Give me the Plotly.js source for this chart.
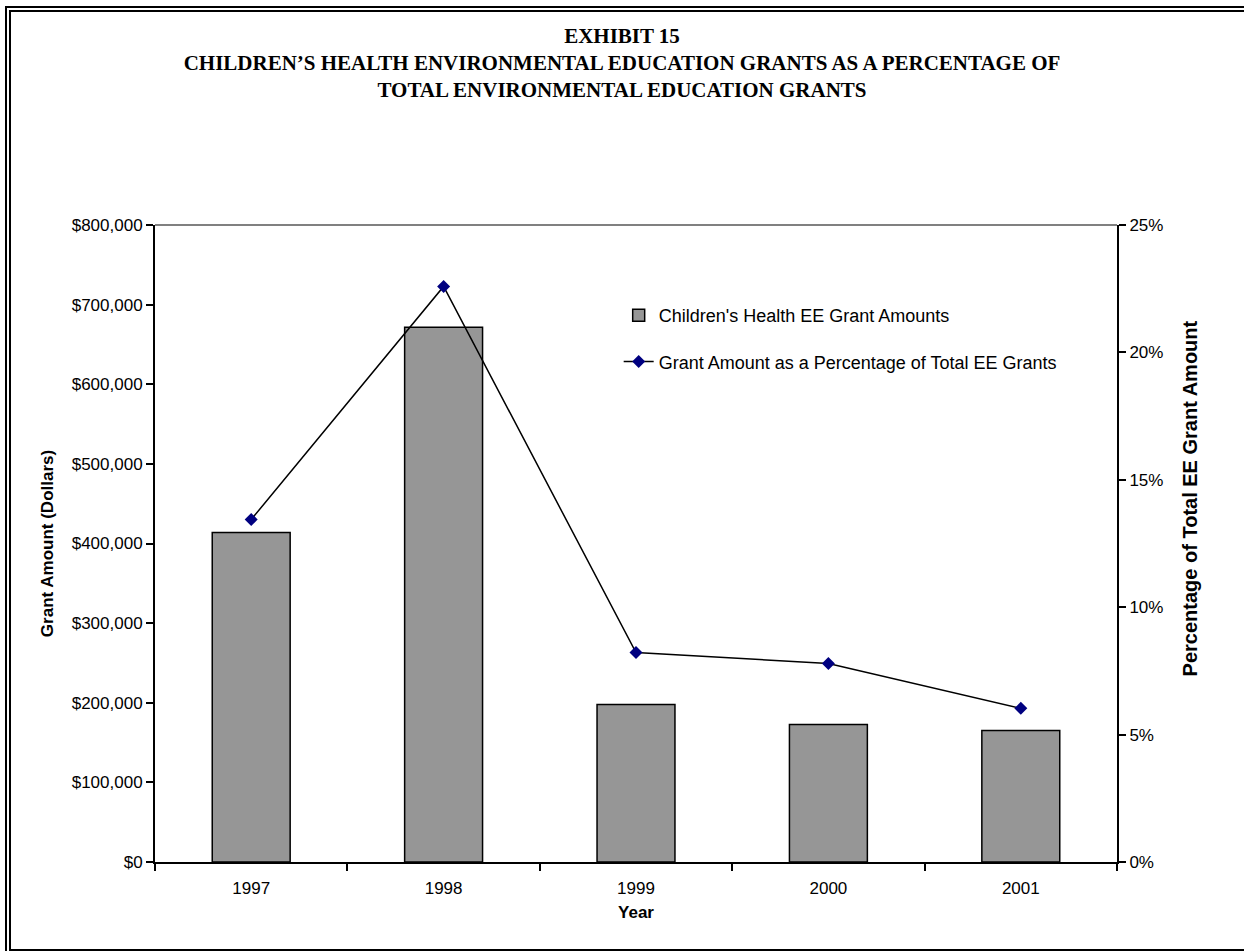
<!DOCTYPE html>
<html>
<head>
<meta charset="utf-8">
<script src="https://cdn.plot.ly/plotly-3.0.1.min.js"></script>
<style>
  html, body { margin: 0; padding: 0; background: #fff; }
  #wrap { position: relative; width: 1244px; height: 951px; overflow: hidden; }
  #chart { position: absolute; left: 0; top: 0; width: 1244px; height: 951px; }
  .frame { position: absolute; pointer-events: none; box-sizing: border-box; }
  #outer { left: 5px; top: 6px; width: 1239px; height: 945px; border-left: 2px solid #000; border-top: 2px solid #000; }
  #inner { left: 9px; top: 10px; width: 1235px; height: 941px; border-left: 2px solid #000; border-top: 2px solid #000; border-bottom: 2px solid #000; }
</style>
</head>
<body>
<div id="wrap">
  <div id="chart"></div>
  <div id="outer" class="frame"></div>
  <div id="inner" class="frame"></div>
</div>
<script>
// ---- data ----
const years = ['1997', '1998', '1999', '2000', '2001'];
const grantAmounts = [413700, 671700, 197900, 172800, 165300];
const grantPercentages = [0.1344, 0.2259, 0.0822, 0.0779, 0.0603];
const barName = "Children's Health EE Grant Amounts";
const lineName = 'Grant Amount as a Percentage of Total EE Grants';
const titleLines = [
  'EXHIBIT 15',
  'CHILDREN\u2019S HEALTH ENVIRONMENTAL EDUCATION GRANTS AS A PERCENTAGE OF',
  'TOTAL ENVIRONMENTAL EDUCATION GRANTS'
];
const leftAxisTitle = 'Grant Amount (Dollars)';
const rightAxisTitle = 'Percentage of Total EE Grant Amount';
const xAxisTitle = 'Year';

const sans = 'Liberation Sans, Arial, sans-serif';
const serif = 'Liberation Serif, Times New Roman, serif';

const traces = [
  {
    type: 'bar',
    x: years,
    y: grantAmounts,
    name: barName,
    legendgroup: 'a',
    marker: { color: '#969696', line: { color: '#000', width: 1.5 } },
    yaxis: 'y',
    xaxis: 'x'
  },
  {
    type: 'scatter',
    mode: 'lines+markers',
    x: years,
    y: grantPercentages,
    name: lineName,
    legendgroup: 'b',
    line: { color: '#000', width: 1.5 },
    marker: { symbol: 'diamond', size: 10, color: '#000080' },
    yaxis: 'y2',
    xaxis: 'x'
  }
];

const layout = {
  width: 1244,
  height: 951,
  paper_bgcolor: '#fff',
  plot_bgcolor: '#fff',
  margin: { l: 155, r: 127, t: 224.5, b: 89, pad: 0 },
  font: { family: sans, size: 17, color: '#000' },
  title: {
    text: '<b>' + titleLines.join('<br>') + '</b>',
    font: { family: serif, size: 21, color: '#000' },
    x: 0.5, xref: 'container', xanchor: 'center',
    y: 0.955, yref: 'container', yanchor: 'top'
  },
  bargap: 0.595,
  showlegend: true,
  legend: {
    x: 0.482, xanchor: 'left',
    y: 0.887, yanchor: 'top',
    bgcolor: 'rgba(0,0,0,0)',
    font: { family: sans, size: 18, color: '#000' },
    traceorder: 'grouped',
    tracegroupgap: 20,
    itemwidth: 30
  },
  xaxis: {
    type: 'category',
    categoryarray: years,
    range: [-0.5, 4.5],
    showline: true, linecolor: '#000', linewidth: 2,
    ticks: 'outside', ticklen: 7, tickwidth: 2, tickcolor: '#000',
    tickson: 'boundaries',
    ticklabelstandoff: 10,
    showgrid: false, zeroline: false,
    tickfont: { family: sans, size: 17 },
    title: { text: '<b>' + xAxisTitle + '</b>', font: { family: sans, size: 17 }, standoff: 9 }
  },
  yaxis: {
    range: [0, 800000],
    dtick: 100000,
    tickformat: ',.0f',
    tickprefix: '$',
    showline: true, linecolor: '#000', linewidth: 2,
    ticks: 'outside', ticklen: 7, tickwidth: 2, tickcolor: '#000',
    showgrid: false, zeroline: false,
    tickfont: { family: sans, size: 17 },
    title: { text: '<b>' + leftAxisTitle + '</b>', font: { family: sans, size: 17 }, standoff: 14 }
  },
  yaxis2: {
    overlaying: 'y',
    side: 'right',
    range: [0, 0.25],
    dtick: 0.05,
    tickformat: '.0%',
    showline: true, linecolor: '#000', linewidth: 2,
    ticks: 'outside', ticklen: 7, tickwidth: 2, tickcolor: '#000',
    showgrid: false, zeroline: false,
    tickfont: { family: sans, size: 17 }
  },
  // inner halves of the crossing tick marks
  yaxis3: {
    overlaying: 'y', side: 'left', anchor: 'x',
    range: [0, 800000], dtick: 100000,
    showline: false, showgrid: false, zeroline: false, showticklabels: false,
    ticks: 'inside', ticklen: 7, tickwidth: 2, tickcolor: '#000'
  },
  yaxis4: {
    overlaying: 'y', side: 'right', anchor: 'x',
    range: [0, 0.25], dtick: 0.05,
    showline: false, showgrid: false, zeroline: false, showticklabels: false,
    ticks: 'inside', ticklen: 7, tickwidth: 2, tickcolor: '#000'
  },
  xaxis2: {
    overlaying: 'x', side: 'bottom', anchor: 'y',
    type: 'linear', range: [-0.5, 4.5], tick0: 0.5, dtick: 1,
    showline: false, showgrid: false, zeroline: false, showticklabels: false,
    ticks: 'inside', ticklen: 7, tickwidth: 2, tickcolor: '#000'
  },
  annotations: [
    {
      text: '<b>' + rightAxisTitle + '</b>',
      xref: 'paper', yref: 'paper',
      x: 1.076, y: 0.571,
      xanchor: 'center', yanchor: 'middle',
      textangle: -90,
      showarrow: false,
      font: { family: sans, size: 20, color: '#000' }
    }
  ],
  shapes: [
    { type: 'line', xref: 'paper', yref: 'paper', x0: 0, x1: 1, y0: 1, y1: 1,
      line: { color: '#808080', width: 2 } }
  ]
};

Plotly.newPlot('chart', traces, layout, { staticPlot: true, displayModeBar: false });
</script>
</body>
</html>
